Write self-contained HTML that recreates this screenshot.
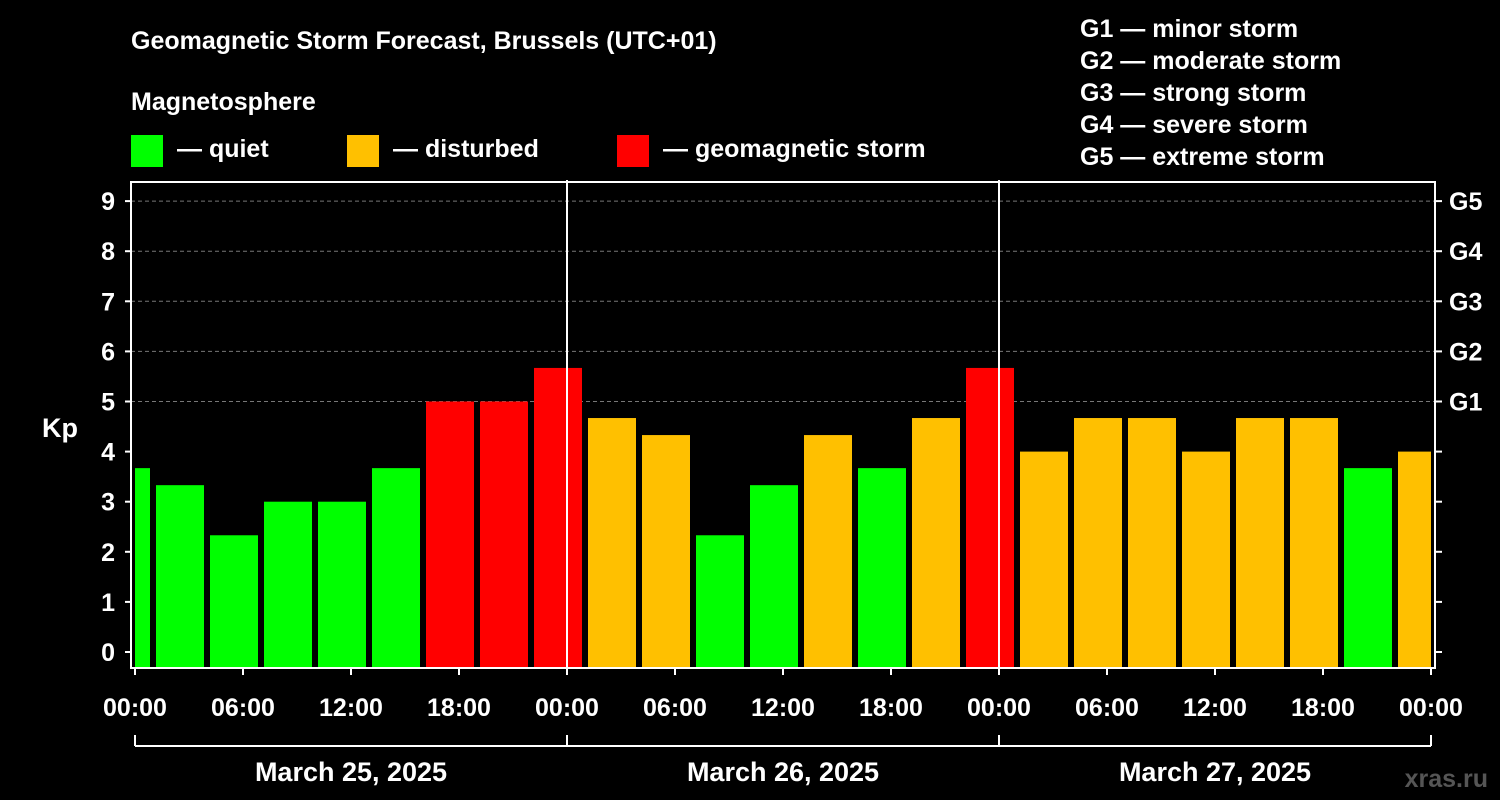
<!DOCTYPE html>
<html><head><meta charset="utf-8"><style>
html,body{margin:0;padding:0;background:#000;}
svg{display:block;font-family:"Liberation Sans",Arial,sans-serif;font-weight:bold;}
</style></head><body>
<svg id="chart" width="1500" height="800" viewBox="0 0 1500 800">
<rect width="1500" height="800" fill="#000"/>
<text x="131" y="49" fill="#fff" font-size="25">Geomagnetic Storm Forecast, Brussels (UTC+01)</text>
<text x="131" y="110" fill="#fff" font-size="25">Magnetosphere</text>
<g><rect x="131" y="135" width="32" height="32" fill="#00ff00"/><text x="177" y="157" fill="#fff" font-size="25">— quiet</text></g>
<g><rect x="347" y="135" width="32" height="32" fill="#ffc000"/><text x="393" y="157" fill="#fff" font-size="25">— disturbed</text></g>
<g><rect x="617" y="135" width="32" height="32" fill="#ff0000"/><text x="663" y="157" fill="#fff" font-size="25">— geomagnetic storm</text></g>
<g fill="#fff" font-size="25">
<text x="1080" y="37">G1 — minor storm</text>
<text x="1080" y="69">G2 — moderate storm</text>
<text x="1080" y="101">G3 — strong storm</text>
<text x="1080" y="133">G4 — severe storm</text>
<text x="1080" y="165">G5 — extreme storm</text>
</g>
<text x="42" y="437" fill="#fff" font-size="27">Kp</text>
<text x="1488" y="787" fill="#555" font-size="25" text-anchor="end">xras.ru</text>
<g id="grid"></g><g id="bars"></g><g id="axes"></g>
</svg>
<script>
const kpValues=[3.67,3.33,2.33,3,3,3.67,5,5,5.67,4.67,4.33,2.33,3.33,4.33,3.67,4.67,5.67,4,4.67,4.67,4,4.67,4.67,3.67,4];
const barStartHours=[-2,1,4,7,10,13,16,19,22,25,28,31,34,37,40,43,46,49,52,55,58,61,64,67,70];
const timeTicks=["00:00","06:00","12:00","18:00","00:00","06:00","12:00","18:00","00:00","06:00","12:00","18:00","00:00"];
const dateLabels=["March 25, 2025","March 26, 2025","March 27, 2025"];
const kpTicks=[0,1,2,3,4,5,6,7,8,9];
const gLabels=[[5,"G1"],[6,"G2"],[7,"G3"],[8,"G4"],[9,"G5"]];
const NS="http://www.w3.org/2000/svg";
const X0=135,PXH=18,PL=131,PR=1435,PT=182,PB=668;
const xs=h=>X0+h*PXH, ys=v=>652-v*50.1;
function mk(tag,attrs,parent,txt){const e=document.createElementNS(NS,tag);for(const k in attrs)e.setAttribute(k,attrs[k]);if(txt!==undefined)e.textContent=txt;parent.appendChild(e);return e;}
const grid=document.getElementById('grid'),bars=document.getElementById('bars'),axes=document.getElementById('axes');
for(const k of kpTicks){if(k>=5){const l=mk('line',{x1:PL,x2:PR,y1:ys(k),y2:ys(k),stroke:'#777','stroke-dasharray':'4,3','stroke-width':1},grid);

}}
kpValues.forEach((v,i)=>{let a=xs(barStartHours[i])+3,b=xs(barStartHours[i]+3)-3;a=Math.max(a,X0);b=Math.min(b,xs(72));
const c=v>=5?'#ff0000':(v>=4?'#ffc000':'#00ff00');
const r=mk('rect',{x:a,y:ys(v),width:b-a,height:PB-ys(v),fill:c},bars);

});
const frame=mk('rect',{x:PL,y:PT,width:PR-PL,height:PB-PT,fill:'none',stroke:'#fff','stroke-width':2},axes);


[24,48].forEach(h=>{const l=mk('line',{x1:xs(h),x2:xs(h),y1:180,y2:PB,stroke:'#fff','stroke-width':2},axes);

});
for(const k of kpTicks){const y=ys(k);
mk('line',{x1:PL-6,x2:PL,y1:y,y2:y,stroke:'#fff','stroke-width':2},axes);
mk('line',{x1:PR,x2:PR+7,y1:y,y2:y,stroke:'#fff','stroke-width':2},axes);
const t=mk('text',{x:115,y:y+9,fill:'#fff','font-size':25,'text-anchor':'end'},axes,String(k));

}
for(const [k,g] of gLabels){const t=mk('text',{x:1449,y:ys(k)+9,fill:'#fff','font-size':25},axes,g);

}
timeTicks.forEach((s,i)=>{const x=xs(i*6);
mk('line',{x1:x,x2:x,y1:PB,y2:PB+7,stroke:'#fff','stroke-width':2},axes);
const t=mk('text',{x:x,y:716,fill:'#fff','font-size':25,'text-anchor':'middle'},axes,s);

});
mk('line',{x1:xs(0),x2:xs(72),y1:746,y2:746,stroke:'#fff','stroke-width':2},axes);
[0,24,48,72].forEach(h=>mk('line',{x1:xs(h),x2:xs(h),y1:735,y2:746,stroke:'#fff','stroke-width':2},axes));
dateLabels.forEach((d,i)=>{const t=mk('text',{x:xs(i*24+12),y:781,fill:'#fff','font-size':27,'text-anchor':'middle'},axes,d);

});
</script>
</body></html>
